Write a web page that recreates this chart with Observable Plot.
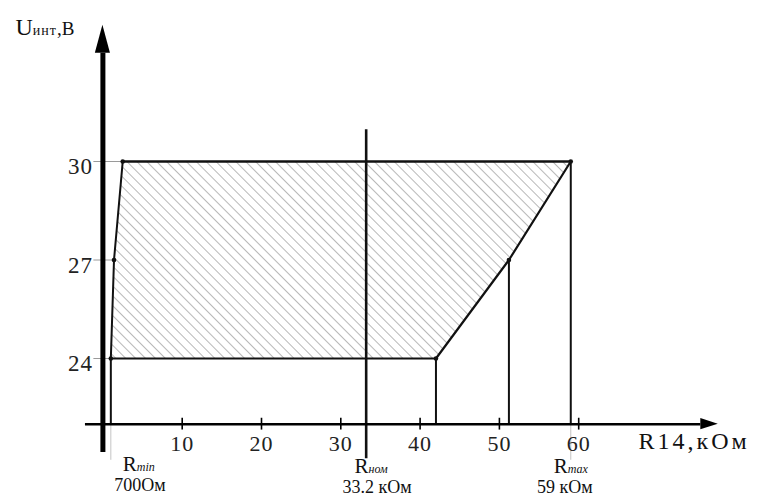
<!DOCTYPE html>
<html><head><meta charset="utf-8">
<script src="https://cdn.jsdelivr.net/npm/d3@7"></script>
<script src="https://cdn.jsdelivr.net/npm/@observablehq/plot@0.6"></script>
<style>body{margin:0;background:#fff}</style>
</head><body><div id="chart"></div>
<script>
// ---- data ----
const xTicks = [10, 20, 30, 40, 50, 60];
const yTicks = [24, 27, 30];
const levels = [24, 27, 30];          // U, V
const leftEdge = [1.0, 1.4, 2.5];     // R14 (kOhm) of left boundary at each level
const rightEdge = [42, 51.2, 59];     // R14 (kOhm) of right boundary at each level
const Rmin = 1.0, Rnom = 33.2, Rmax = 59;
const axisU = 22;                     // where the R axis crosses
const yAxisExtent = [21.14, 33.3, 34.15]; // bottom, arrow base, arrow tip
const xAxisExtent = [-2.2, 75.4, 77.6];   // left, arrow base, arrow tip
const nomExtent = [20.95, 30.97];
const extBelow = 20.9;
const bottomLabels = [
  {x: Rmin, sub: "min", val: "700Ом"},
  {x: Rnom, sub: "ном", val: "33.2 кОм"},
  {x: Rmax, sub: "max", val: "59 кОм"}
];

const region = levels.map((u, i) => ({u, l: leftEdge[i], r: rightEdge[i]}));
const drops = [
  {x: leftEdge[0], u: levels[0]},
  {x: rightEdge[0], u: levels[0]},
  {x: rightEdge[1], u: levels[1]},
  {x: rightEdge[2], u: levels[2]}
];
const vertices = [
  ...region.map(d => ({x: d.l, u: d.u})),
  ...region.map(d => ({x: d.r, u: d.u}))
];

const serif = "Liberation Serif, Times New Roman, DejaVu Serif, serif";
const ink = "#111";

function labelMarks(d, nameDx, nameDy, valDx, valDy) {
  return [
    Plot.text([d], {x: "x", y: () => axisU, text: d => "R" + d.sub, textAnchor: "middle", lineAnchor: "bottom",
      dx: nameDx, dy: nameDy, fontSize: 21, fontFamily: serif, fill: ink}),
    Plot.text([d], {x: "x", y: () => axisU, text: "val", textAnchor: "middle", lineAnchor: "bottom",
      dx: valDx, dy: valDy, fontSize: 18, fontFamily: serif, fill: ink})
  ];
}

const svg = Plot.plot({
  width: 757,
  height: 498,
  marginLeft: 0, marginRight: 0, marginTop: 0, marginBottom: 0,
  x: {domain: [0, 60], range: [102.4, 578.2], axis: null},
  y: {domain: [24, 30], range: [358, 161], axis: null},
  style: {background: "#fff"},
  marks: [
    // hatched region
    Plot.areaX(region, {y: "u", x1: "l", x2: "r", fill: "url(#hatch)"}),
    // y tick marks (thin gray)
    Plot.link(region, {x1: () => -1.2, x2: "l", y1: "u", y2: "u", stroke: "#9a9a9a", strokeWidth: 1}),
    // faint extensions below axis
    Plot.ruleX([Rmin, Rmax], {y1: axisU, y2: extBelow, stroke: "#c4c4c4", strokeWidth: 1}),
    // boundaries
    Plot.line(region, {x: "l", y: "u", stroke: ink, strokeWidth: 2}),
    Plot.line(region, {x: "r", y: "u", stroke: ink, strokeWidth: 2.2}),
    Plot.link([region[2]], {x1: "l", x2: "r", y1: "u", y2: "u", stroke: ink, strokeWidth: 2.6}),
    Plot.link([region[0]], {x1: "l", x2: "r", y1: "u", y2: "u", stroke: ink, strokeWidth: 2}),
    // drop lines to the axis
    Plot.ruleX(drops, {x: "x", y1: axisU, y2: "u", stroke: ink, strokeWidth: 2}),
    // nominal line
    Plot.ruleX([Rnom], {y1: nomExtent[0], y2: nomExtent[1], stroke: ink, strokeWidth: 2.6}),
    // vertices
    Plot.dot(vertices, {x: "x", y: "u", r: 2.3, fill: ink}),
    // y axis + arrow
    Plot.ruleX([0], {y1: yAxisExtent[0], y2: yAxisExtent[1], stroke: "#000", strokeWidth: 5}),
    Plot.areaX([{u: yAxisExtent[1], a: -0.95, b: 0.95}, {u: yAxisExtent[2], a: 0, b: 0}],
      {y: "u", x1: "a", x2: "b", fill: "#000"}),
    // x axis + arrow
    Plot.ruleY([axisU], {x1: xAxisExtent[0], x2: xAxisExtent[1], stroke: "#000", strokeWidth: 2.5}),
    Plot.areaY([{x: xAxisExtent[1], a: axisU - 0.17, b: axisU + 0.17}, {x: xAxisExtent[2], a: axisU, b: axisU}],
      {x: "x", y1: "a", y2: "b", fill: "#000"}),
    // x ticks
    Plot.ruleX(xTicks, {y1: axisU - 0.18, y2: axisU + 0.18, stroke: "#000", strokeWidth: 1.6}),
    Plot.text(xTicks, {x: d => d, y: () => axisU, dy: 27, lineAnchor: "bottom", textAnchor: "middle",
      fontSize: 22, fontFamily: serif, fill: "#222"}),
    // y tick labels
    Plot.text(yTicks, {x: () => 0, y: d => d, dx: -10, dy: 5.5, textAnchor: "end", lineAnchor: "middle",
      fontSize: 23, fontFamily: serif, fill: "#222"}),
    // axis titles
    Plot.text(["Uинт,B"], {frameAnchor: "top-left", dx: 15, dy: 34, lineAnchor: "bottom", textAnchor: "start",
      fontSize: 24, fontFamily: serif, fill: ink}),
    Plot.text(["R14,кОм"], {frameAnchor: "top-left", dx: 638, dy: 448, lineAnchor: "bottom", textAnchor: "start",
      fontSize: 24, fontFamily: serif, fill: ink}),
    // bottom labels
    ...labelMarks(bottomLabels[0], 28, 47, 29, 67),
    ...labelMarks(bottomLabels[1], 5, 49, 11, 69),
    ...labelMarks(bottomLabels[2], 0, 49, -6, 69)
  ]
});

// hatch pattern
const defs = d3.select(svg).insert("defs", ":first-child");
const pat = defs.append("pattern").attr("id", "hatch").attr("patternUnits", "userSpaceOnUse")
  .attr("width", 7).attr("height", 7).attr("patternTransform", "rotate(-45)");
pat.append("line").attr("x1", 3.5).attr("y1", 0).attr("x2", 3.5).attr("y2", 7)
  .attr("stroke", "#b8b8b8").attr("stroke-width", 1);

const sel = d3.select(svg).selectAll("text");
sel.filter(function () { return this.textContent === "R14,кОм"; }).attr("letter-spacing", 3);
sel.filter(function () { return /^\d+$/.test(this.textContent); }).attr("letter-spacing", 1);
// subscripts as tspans
sel.filter(function () { return this.textContent === "Uинт,B"; }).each(function () {
  const t = d3.select(this);
  const target = t.select("tspan").empty() ? t : t.select("tspan");
  target.text(null);
  target.append("tspan").text("U");
  target.append("tspan").attr("font-size", 14).attr("letter-spacing", 1).text("инт");
  target.append("tspan").attr("font-size", 19).text(",B");
});
bottomLabels.forEach(b => {
  sel.filter(function () { return this.textContent === "R" + b.sub; }).each(function () {
    const t = d3.select(this);
    const target = t.select("tspan").empty() ? t : t.select("tspan");
    target.text(null);
    target.append("tspan").text("R");
    target.append("tspan").attr("font-size", 12).attr("font-style", "italic").text(b.sub);
  });
});

document.getElementById("chart").appendChild(svg);
</script>
</body></html>
